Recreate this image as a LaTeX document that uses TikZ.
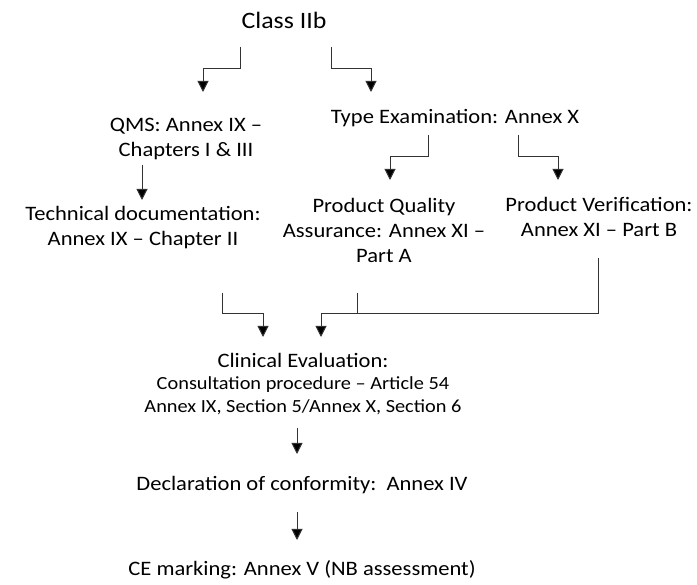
\documentclass[tikz,border=0pt]{standalone}
\usepackage{fontspec}
\setmainfont[FakeStretch=1.1]{Carlito}
\usetikzlibrary{arrows.meta,calc}
\begin{document}
\begin{tikzpicture}[x=1pt,y=-1pt,
  txt/.style={inner sep=0pt,align=center,font=\fontsize{20.5}{25}\selectfont},
  big/.style={inner sep=0pt,align=center,font=\fontsize{23.5}{25}\selectfont},
  small/.style={inner sep=0pt,align=center,font=\fontsize{18.5}{23}\selectfont},
  conn/.style={draw=black!80,line width=1pt,-{Triangle[width=11pt,length=11pt,fill=black]}},
  seg/.style={draw=black!80,line width=1pt}]
\useasboundingbox (0,0) rectangle (697,585);

% text blocks
\node[big] (cls) at (284,20) {Class IIb};
\node[txt] (qms) at (186,139) {QMS: Annex IX --\\Chapters I \& III};
\node[txt] (type) at (455,118) {Type Examination: Annex X};
\node[txt] (tech) at (143,228) {Technical documentation:\\Annex IX -- Chapter II};
\node[txt] (pqa) at (384,230) {Product Quality\\Assurance: Annex XI --\\Part A};
\node[txt] (pv) at (599,217) {Product Verification:\\Annex XI -- Part B};
\node[txt] (clin) at (303,360) {Clinical Evaluation:};
\node[small] (cons) at (303,396) {Consultation procedure -- Article 54\\Annex IX, Section 5/Annex X, Section 6};
\node[txt] (doc) at (302,485) {Declaration of conformity:\ \ Annex IV};
\node[txt] (ce) at (302,570) {CE marking: Annex V (NB assessment)};

% Class IIb branches
\coordinate (c1) at (240,47);
\coordinate (c1t) at (203,92);
\coordinate (c2) at (331,47);
\coordinate (c2t) at (371,92);
\draw[conn] (c1) -- (240,69) -| (c1t);
\draw[conn] (c2) -- (331,69) -| (c2t);

% QMS to technical documentation
\coordinate (q1) at (142,165);
\coordinate (q1t) at (142,200);
\draw[conn] (q1) -- (q1t);

% Type examination branches
\coordinate (t1) at (428,135);
\coordinate (t1t) at (390,180);
\coordinate (t2) at (518,135);
\coordinate (t2t) at (558,180);
\draw[conn] (t1) -- (428,157) -| (t1t);
\draw[conn] (t2) -- (518,157) -| (t2t);

% Into clinical evaluation
\coordinate (a1) at (222,293);
\coordinate (a1t) at (263,337);
\draw[conn] (a1) -- (222,314) -| (a1t);
\coordinate (m1) at (357,293);
\coordinate (m1j) at (357,314);
\coordinate (r1) at (598,258);
\coordinate (r1t) at (321,337);
\draw[seg] (m1) -- (m1j);
\draw[conn] (r1) -- (598,314) -| (r1t);

% Down the final chain
\coordinate (d1) at (297,428);
\coordinate (d1t) at (297,454);
\draw[conn] (d1) -- (d1t);
\coordinate (e1) at (297,512);
\coordinate (e1t) at (297,540);
\draw[conn] (e1) -- (e1t);
\end{tikzpicture}
\end{document}
